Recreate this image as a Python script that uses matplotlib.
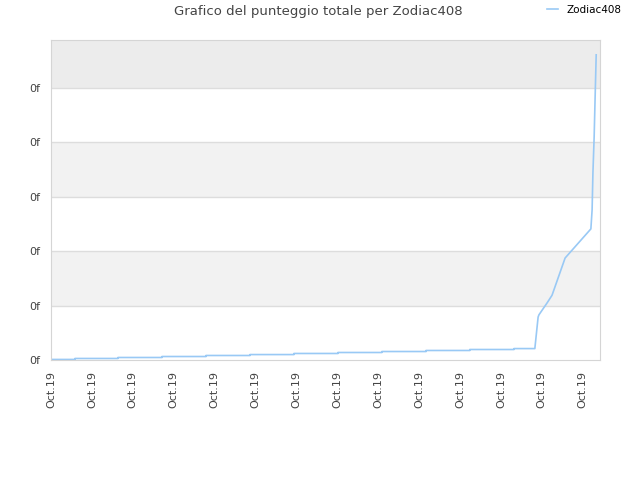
import matplotlib
matplotlib.use('Agg')
import matplotlib.pyplot as plt

# punti (x = posizione sui tick, y = punteggio in unita' di griglia)
xs = [0.0, 0.587, 0.587, 1.638, 1.638, 2.714, 2.714, 3.79, 3.79, 4.866, 4.866, 5.94, 5.94,
      7.017, 7.017, 8.09, 8.09, 9.17, 9.17, 10.24, 10.24, 11.32, 11.32, 11.83,
      11.91, 11.93, 12.13, 12.25, 12.57, 13.20, 13.23, 13.25, 13.28, 13.30, 13.33]
ys = [0.01, 0.01, 0.028, 0.028, 0.046, 0.046, 0.064, 0.064, 0.083, 0.083, 0.10, 0.10, 0.12,
      0.12, 0.138, 0.138, 0.156, 0.156, 0.175, 0.175, 0.193, 0.193, 0.21, 0.21,
      0.79, 0.83, 1.05, 1.19, 1.875, 2.41, 2.76, 3.44, 4.10, 4.72, 5.61]
xticks = list(range(14))
xlabels = ['Oct.19'] * 14
yticks = [0, 1, 2, 3, 4, 5]
ylabels = ['0f'] * 6
serie = 'Zodiac408'

fig = plt.figure(figsize=(6.4, 4.8), dpi=100)
ax = fig.add_axes([51/640, 120/480, 549/640, 320/480])

ymax = 320 / 54.4
ax.set_xlim(0, 549 / 40.9)
ax.set_ylim(0, ymax)

# bande alternate
bands = ['white', '#f2f2f2', 'white', '#f2f2f2', 'white', '#ececec']
for i, c in enumerate(bands):
    ax.axhspan(i, min(i + 1, ymax), color=c, zorder=0, lw=0)
for t in yticks[1:]:
    ax.axhline(t, color='#dddddd', lw=1, zorder=1)

line, = ax.plot(xs, ys, color='#99c9f5', lw=1.2, zorder=2)

ax.set_xticks(xticks)
ax.set_xticklabels(xlabels, rotation=90, fontsize=8, color='#444444')
ax.set_yticks(yticks)
ax.set_yticklabels(ylabels, fontsize=8, color='#444444')
ax.tick_params(length=0, pad=8)
for s in ax.spines.values():
    s.set_color('#d5d5d5')

fig.text(318/640, 1 - 12/480, 'Grafico del punteggio totale per Zodiac408',
         ha='center', va='center', fontsize=9.5, color='#444444')
fig.legend([line], [serie], loc='upper right', bbox_to_anchor=(0.985, 1.01),
           frameon=False, fontsize=7.5, handlelength=1.0, handletextpad=0.8)

fig.savefig('out.png', dpi=100)
